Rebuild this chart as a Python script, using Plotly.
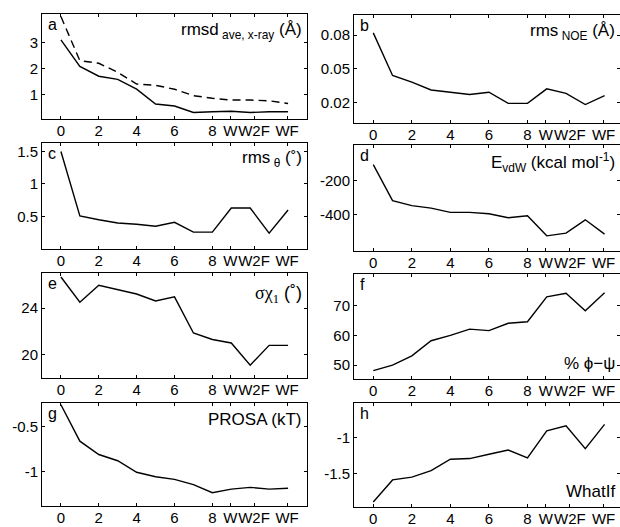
import plotly.graph_objects as go

x = list(range(13))
xtick_vals = [0, 2, 4, 6, 8, 8.95, 10.2, 11.95]
xtick_text = ["0", "2", "4", "6", "8", "W", "W2F", "WF"]

rmsd_solid = [3.1, 2.08, 1.7, 1.58, 1.2, 0.63, 0.55, 0.3, 0.33, 0.35, 0.3, 0.33, 0.33]
rmsd_dashed = [4.0, 2.3, 2.2, 1.85, 1.4, 1.35, 1.2, 0.95, 0.85, 0.78, 0.78, 0.75, 0.65]
rms_noe = [0.082, 0.044, 0.038, 0.031, 0.029, 0.027, 0.029, 0.019, 0.019, 0.032, 0.028, 0.018, 0.026]
rms_theta = [1.5, 0.51, 0.45, 0.40, 0.38, 0.35, 0.41, 0.26, 0.26, 0.63, 0.63, 0.245, 0.6]
e_vdw = [-109, -318, -347, -361, -386, -386, -394, -417, -406, -522, -506, -429, -512]
sigma_chi1 = [26.66, 24.5, 25.95, 25.6, 25.2, 24.6, 24.95, 21.86, 21.3, 21.0, 19.1, 20.8, 20.8]
pct_phipsi = [48.1, 50.0, 53.1, 58.2, 60.0, 62.1, 61.6, 64.1, 64.6, 73.0, 74.2, 68.3, 74.4]
prosa = [-0.25, -0.66, -0.81, -0.88, -1.01, -1.06, -1.09, -1.15, -1.24, -1.2, -1.18, -1.2, -1.19]
whatif = [-1.9, -1.59, -1.55, -1.46, -1.30, -1.29, -1.23, -1.17, -1.28, -0.90, -0.83, -1.15, -0.81]

W, H = 620, 527

def ydom(top, bot):
    return [1 - bot / H, 1 - top / H]

left_dom = [42 / W, 307 / W]
right_dom = [354 / W, 1.0]

panels = [
    ([rmsd_solid, rmsd_dashed], ["solid", "dash"], left_dom, [-1, 13], ydom(14, 119), [0.05, 4.1], [1, 2, 3], ["1", "2", "3"]),
    ([rms_noe], ["solid"], right_dom, [-1, 12.8], ydom(15, 123), [0.0015, 0.098], [0.02, 0.05, 0.08], ["0.02", "0.05", "0.08"]),
    ([rms_theta], ["solid"], left_dom, [-1, 13], ydom(143, 249), [0.0, 1.63], [0.5, 1, 1.5], ["0.5", "1", "1.5"]),
    ([e_vdw], ["solid"], right_dom, [-1, 12.8], ydom(145, 251), [-610, 5], [-400, -200], ["-400", "-200"]),
    ([sigma_chi1], ["solid"], left_dom, [-1, 13], ydom(273, 378), [18.0, 27.0], [20, 24], ["20", "24"]),
    ([pct_phipsi], ["solid"], right_dom, [-1, 12.8], ydom(274, 379), [45.3, 80.7], [50, 60, 70], ["50", "60", "70"]),
    ([prosa], ["solid"], left_dom, [-1, 13], ydom(403, 506), [-1.39, -0.23], [-1, -0.5], ["-1", "-0.5"]),
    ([whatif], ["solid"], right_dom, [-1, 12.8], ydom(403, 507), [-1.97, -0.51], [-1.5, -1], ["-1.5", "-1"]),
]

fig = go.Figure()
layout = {}
font_fam = "Liberation Sans, Arial, sans-serif"
for i, (series, dashes, xd, xr, yd, yr, yt, ytt) in enumerate(panels, start=1):
    xa = "x" if i == 1 else f"x{i}"
    ya = "y" if i == 1 else f"y{i}"
    for s, d in zip(series, dashes):
        fig.add_trace(go.Scatter(x=x, y=s, mode="lines", xaxis=xa, yaxis=ya,
                                 line=dict(color="black", width=1.4, dash=("8px,5px" if d == "dash" else "solid")),
                                 showlegend=False, hoverinfo="skip"))
    common = dict(showline=True, linecolor="black", linewidth=1, mirror="allticks",
                  ticks="inside", ticklen=3, tickcolor="black", showgrid=False, zeroline=False,
                  tickfont=dict(family=font_fam, size=15, color="black"), tickangle=0)
    layout["xaxis" if i == 1 else f"xaxis{i}"] = dict(domain=xd, range=xr, anchor=ya,
                                                        tickmode="array", tickvals=xtick_vals, ticktext=xtick_text,
                                                        ticklabelstandoff=-2, **common)
    layout["yaxis" if i == 1 else f"yaxis{i}"] = dict(domain=yd, range=yr, anchor=xa,
                                                        tickmode="array", tickvals=yt, ticktext=ytt, **common)

fig.update_layout(**layout)
fig.update_layout(width=W, height=H, margin=dict(l=0, r=0, t=0, b=0),
                  paper_bgcolor="white", plot_bgcolor="white",
                  font=dict(family=font_fam, color="black"))

letters = ["a", "b", "c", "d", "e", "f", "g", "h"]
for i, L in enumerate(letters, start=1):
    xa = "x" if i == 1 else f"x{i}"
    ya = "y" if i == 1 else f"y{i}"
    fig.add_annotation(x=0.015, y=1.0, xref=f"{xa} domain", yref=f"{ya} domain",
                       text=L, showarrow=False, xanchor="left", yanchor="top",
                       font=dict(size=16, family=font_fam, color="black"))

titles = [
    (1, "rmsd<sub> ave, x-ray</sub> (Å)", 0.99, 0.96, "top"),
    (2, "rms<sub> NOE</sub> (Å)", 0.99, 0.96, "top"),
    (3, "rms<sub> θ</sub> (˚)", 0.99, 0.97, "top"),
    (4, "E<sub>vdW</sub> (kcal mol<sup>-1</sup>)", 0.99, 0.97, "top"),
    (6, "% ϕ−ψ", 0.99, 0.04, "bottom"),
    (7, "PROSA (kT)", 0.99, 0.95, "top"),
    (8, "WhatIf", 0.99, 0.04, "bottom"),
]
for i, t, xx, yy, ya_anchor in titles:
    xa = "x" if i == 1 else f"x{i}"
    ya = "y" if i == 1 else f"y{i}"
    fig.add_annotation(x=xx, y=yy, xref=f"{xa} domain", yref=f"{ya} domain",
                       text=t, showarrow=False, xanchor="right", yanchor=ya_anchor,
                       font=dict(size=17, family=font_fam, color="black"))

fig.add_annotation(x=0.99, y=0.92, xref="x5 domain", yref="y5 domain",
                   text="<span style='font-family:Liberation Serif, Times New Roman, serif'>σχ<sub>1</sub></span> (˚)",
                   showarrow=False, xanchor="right", yanchor="top",
                   font=dict(size=18, family=font_fam, color="black"))

fig.write_html("out.html")
